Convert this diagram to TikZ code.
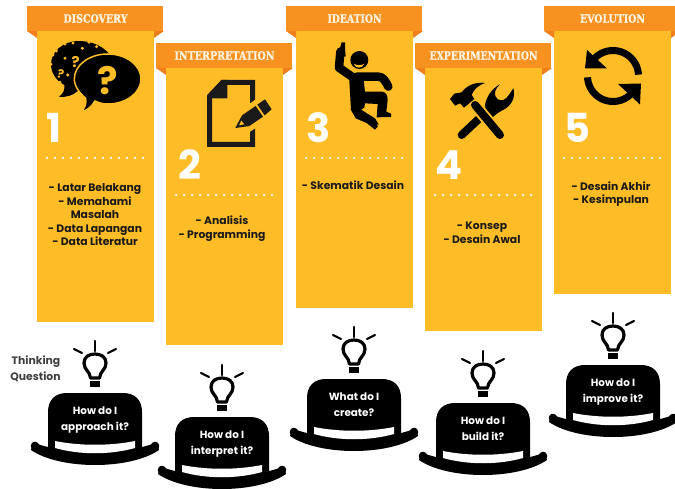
\documentclass[tikz,border=0pt]{standalone}
\usepackage{fontspec}
\setmainfont{Poppins}
\newfontfamily\slabfont[BoldFeatures={FakeBold=1.2}]{DejaVu Serif}
\definecolor{bodygold}{HTML}{FEBC27}
\definecolor{bannerorange}{HTML}{F7911F}
\definecolor{foldorange}{HTML}{EE7F1C}
\definecolor{inkdark}{HTML}{1A1A1A}
\definecolor{captext}{HTML}{FFF3DF}
\tikzset{
  x=1pt,y=-1pt,
  bodyfill/.style={fill=bodygold},
  bannerfill/.style={fill=bannerorange},
  foldfill/.style={fill=foldorange},
  titletext/.style={inner sep=0pt,text=captext,anchor=center},
  numtext/.style={inner sep=0pt,text=white,anchor=base,font=\fontsize{40}{40}\selectfont\bfseries},
  linetext/.style={inner sep=0pt,anchor=mid,text=inkdark,font=\fontsize{10.8}{12}\selectfont\bfseries},
  hattext/.style={inner sep=0pt,anchor=mid,text=white,font=\fontsize{10.4}{12}\selectfont\bfseries},
  sidetext/.style={inner sep=0pt,anchor=mid,text=black!75,font=\fontsize{10.8}{12}\selectfont\bfseries},
  icon/.style={fill=black,draw=none},
  iconline/.style={draw=black,line cap=round,line join=round},
  goldline/.style={draw=bodygold,line cap=round,line join=round},
  gapline/.style={draw=bodygold,line cap=butt},
  qmark/.style={inner sep=0pt,text=bodygold,font=\bfseries},
}
\newcommand{\stagecolumn}[9]{%
  \fill[bodyfill] (#2,#3+25) rectangle (#2+117,#4);
  \fill[foldfill] (#2-10,#3+25) -- (#2,#3+25) -- (#2,#3+32) -- cycle;
  \fill[foldfill] (#2+127,#3+25) -- (#2+117,#3+25) -- (#2+117,#3+32) -- cycle;
  \fill[bannerfill] (#2-10,#3) rectangle (#2+126,#3+25);
  \node[titletext] (#1title) at (#2+58.5,#3+12.5) {\resizebox{#6pt}{8.6pt}{\slabfont\bfseries #5}};
  \node[numtext] (#1num) at (#8,#3+#9) {#7};
  \foreach \d in {0,...,12} \fill[white] (#2+10+8*\d,#3+#9+15) circle[radius=1.25pt];
}
\newcommand{\thinkinghat}[5]{%
  \begin{scope}[shift={(#2,#3)}]
    \fill[black] (-47,58) -- (-47,19) .. controls (-47,7) and (-40,0) .. (-28,0) -- (28,0) .. controls (40,0) and (47,7) .. (47,19) -- (47,58) -- cycle;
    \fill[black] (-62,49) .. controls (-35,62) and (35,62) .. (62,49) -- (64,57) .. controls (35,77) and (-35,77) .. (-64,57) -- cycle;
    \fill[black] (-60,53) circle[radius=4.3pt] (60,53) circle[radius=4.3pt];
    \fill[white] (-40,48) .. controls (-15,53) and (15,53) .. (40,48) -- (40,55) .. controls (15,62) and (-15,62) .. (-40,55) -- cycle;
    \node[hattext] (#1a) at (0,19) {#4};
    \node[hattext] (#1b) at (0,35) {#5};
    \draw[iconline,line width=3.2pt] (-4.5,-15) .. controls (-5,-22) and (-11,-23) .. (-11,-30) .. controls (-11,-36) and (-6,-39) .. (0,-39) .. controls (6,-39) and (11,-36) .. (11,-30) .. controls (11,-23) and (5,-22) .. (4.5,-15) -- cycle;
    \fill[black] (-5,-12) rectangle (5,-6);
    \draw[iconline,line width=2.2pt] (0,-52) -- (0,-42);
    \draw[iconline,line width=2.2pt] (-21,-44) -- (-13,-40);
    \draw[iconline,line width=2.2pt] (21,-44) -- (13,-40);
  \end{scope}
}
\begin{document}
\begin{tikzpicture}
\useasboundingbox (0,0) rectangle (675,489);
\fill[white] (0,0) rectangle (675,489);

\stagecolumn{c1}{37}{6}{322}{DISCOVERY}{64}{1}{54.5}{137}
\stagecolumn{c2}{166}{43}{345}{INTERPRETATION}{100}{2}{190}{137}
\stagecolumn{c3}{296}{6}{308}{IDEATION}{54}{3}{318.5}{137}
\stagecolumn{c4}{425}{43}{331}{EXPERIMENTATION}{108}{4}{449.5}{137}
\stagecolumn{c5}{554}{6}{294}{EVOLUTION}{65}{5}{577.5}{137}

\foreach \t [count=\i] in {- Latar Belakang,- Memahami,Masalah,- Data Lapangan,- Data Literatur}
  \node[linetext] (cAline\i) at (95,175.5+13.5*\i) {\t};
\foreach \t [count=\i] in {- Analisis,- Programming}
  \node[linetext] (cBline\i) at (222,208+14*\i) {\t};
\node[linetext] (cCline1) at (353,187) {- Skematik Desain};
\foreach \t [count=\i] in {- Konsep,- Desain Awal}
  \node[linetext] (cDline\i) at (482,213.5+13.5*\i) {\t};
\foreach \t [count=\i] in {- Desain Akhir,- Kesimpulan}
  \node[linetext] (cEline\i) at (611,174+13.5*\i) {\t};

% icon 1: speech bubbles
\begin{scope}[shift={(45,35)},scale=1/3]
  \fill[black] (100,18) .. controls (150,18) and (180,40) .. (195,60) -- (190,130) -- (95,170) .. controls (85,180) and (65,188) .. (42,185) .. controls (55,175) and (60,165) .. (58,150) .. controls (30,135) and (18,110) .. (18,88) .. controls (18,50) and (55,18) .. (100,18) -- cycle;
  \foreach \p in {(24,60),(34,48),(18,88),(60,27),(84,24),(112,40),(132,22),(155,35),(60,70),(68,120),(45,142)}
    \fill[bodygold] \p circle[radius=5pt];
  \node[qmark,font=\fontsize{15}{15}\selectfont\bfseries] (backqa) at (92,80) {?};
  \node[qmark,font=\fontsize{12}{12}\selectfont\bfseries,rotate=-15] (backqb) at (47,118) {?};
  \fill[black,draw=bodygold,line width=1.5pt] (150,198) .. controls (140,215) and (125,228) .. (105,232) .. controls (120,222) and (125,205) .. (122,190) .. controls (105,175) and (88,155) .. (88,132) .. controls (88,90) and (133,57) .. (188,57) .. controls (243,57) and (288,90) .. (288,132) .. controls (288,174) and (243,207) .. (188,207) .. controls (175,207) and (162,204) .. (150,198) -- cycle;
  \node[qmark,font=\fontsize{38}{38}\selectfont\bfseries] (frontq) at (187,137) {?};
\end{scope}

% icon 2: document and pencil
\begin{scope}[scale=1/3]
  \draw[draw=inkdark,line width=5pt,line join=miter] (629,289) -- (668,247) -- (758,247) -- (758,433) -- (629,433) -- cycle;
  \fill[inkdark] (622,285) -- (665,240) -- (682,240) -- (682,295) -- (622,295) -- cycle;
  \fill[bodygold] (700,395) -- (715,335) -- (790,282) -- (830,345) -- (750,395) -- cycle;
  \fill[inkdark] (706,384) -- (726,346) -- (767,318) -- (789,350) -- (748,378) -- cycle;
  \fill[inkdark] (772,314) -- (795,298) -- (815,328) -- (794,346) -- cycle;
  \fill[bodygold] (717,376) -- (724,362) -- (733,373) -- cycle;
\end{scope}

% icon 3: jumping figure
\begin{scope}[shift={(325,35)},scale=1/3]
  \fill[black] (103,75) circle[radius=27pt];
  \fill[bodygold] (86,86) .. controls (95,92) and (110,92) .. (118,86) .. controls (112,102) and (92,102) .. (86,86) -- cycle;
  \draw[iconline,line width=8.5pt] (85,128) -- (42,98) -- (46,50);
  \fill[black] (34,55) -- (46,35) -- (50,22) -- (60,22) -- (60,42) -- (62,65) -- (34,65) -- cycle;
  \draw[iconline,line width=8.5pt] (95,125) -- (160,125) .. controls (175,125) and (182,140) .. (190,155);
  \fill[black] (72,122) -- (114,116) -- (120,170) -- (170,170) .. controls (182,170) and (188,180) .. (188,195) -- (184,230) -- (198,236) -- (198,246) -- (155,247) -- (158,207) -- (120,205) -- (118,218) -- (108,224) -- (150,250) -- (162,270) -- (150,284) -- (125,264) -- (92,250) -- (78,225) -- cycle;
  \draw[goldline,line width=1.3pt] (128,232) -- (144,238) (130,218) -- (143,230) (148,215) -- (150,230);
  \draw[goldline,line width=1.3pt] (160,252) -- (178,256) (162,262) -- (186,270) (158,270) -- (172,278);
\end{scope}

% icon 4: hammer and wrench
\begin{scope}[shift={(445,75)},scale=1/3]
  \draw[iconline,line width=8pt] (50,180) -- (130,105);
  \fill[black] (120,92) .. controls (122,70) and (138,42) .. (165,28) .. controls (150,42) and (147,55) .. (152,65) .. controls (158,78) and (175,80) .. (185,68) .. controls (192,60) and (198,50) .. (205,40) .. controls (212,65) and (202,92) .. (172,106) .. controls (160,112) and (150,120) .. (140,130) -- cycle;
  \draw[gapline,line width=12pt] (85,85) -- (150,162);
  \draw[iconline,line width=8pt] (90,90) -- (165,180);
  \fill[black] (15,72) -- (28,56) -- (50,52) .. controls (65,30) and (95,20) .. (120,24) .. controls (100,30) and (85,45) .. (80,60) -- (88,72) -- (57,98) -- (45,85) -- (30,92) -- cycle;
\end{scope}

% icon 5: refresh arrows
\draw[iconline,line cap=butt,line width=7pt,domain=3:150,samples=30,smooth] plot ({613+25.5*cos(\x)},{76-25.5*sin(\x)});
\fill[black] (587,50) -- (585,68.5) -- (607,68.5) -- cycle;
\draw[iconline,line cap=butt,line width=7pt,domain=183:325,samples=30,smooth] plot ({613+25.5*cos(\x)},{76-25.5*sin(\x)});
\fill[black] (641,83.5) -- (640,104.5) -- (618,84) -- cycle;

\node[sidetext] (thinka) at (36,362) {Thinking};
\node[sidetext] (thinkb) at (35.5,378) {Question};

\thinkinghat{hA}{95}{393}{How do I}{approach it?}
\thinkinghat{hB}{222}{417}{How do I}{interpret it?}
\thinkinghat{hC}{354}{379}{What do I}{create?}
\thinkinghat{hD}{483}{403}{How do I}{build it?}
\thinkinghat{hE}{613}{365}{How do I}{improve it?}
\end{tikzpicture}
\end{document}
